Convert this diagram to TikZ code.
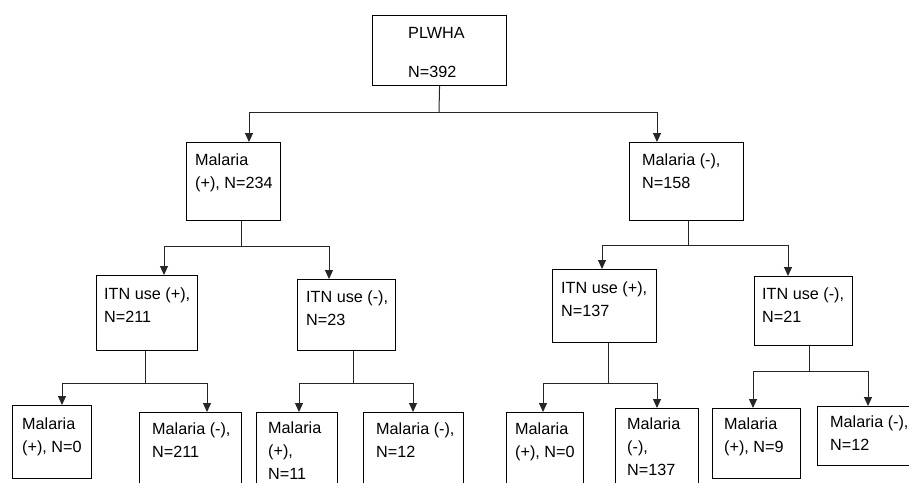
\documentclass[tikz,border=0pt]{standalone}
\usepackage{fontspec}
\setmainfont{Liberation Sans}
\usetikzlibrary{arrows.meta}
\tikzset{
  box/.style={draw, line width=1.1pt, anchor=north west, inner sep=0pt},
  lbl/.style={anchor=base west, inner sep=0pt, align=left, font=\fontsize{16.2}{23}\selectfont},
  ln/.style={line width=1pt, black!85},
  arr/.style={ln, -{Triangle[length=9pt,width=8pt]}},
}
\begin{document}
\begin{tikzpicture}[x=1pt,y=-1pt]
	\clip (0,0) rectangle (909,482);
	% boxes (labels placed at the baseline of their last line)
	\node[box, minimum width=134, minimum height=70] (root) at (372,15) {};
	\node[lbl] (tRoot) at (408,77) {PLWHA\\[16pt]N=392};
	\node[box, minimum width=94, minimum height=78] (mp) at (186,142) {};
	\node[lbl] (tMp) at (195,188) {Malaria\\(+), N=234};
	\node[box, minimum width=114, minimum height=78] (mn) at (629,142) {};
	\node[lbl] (tMn) at (642,188) {Malaria (-),\\N=158};
	\node[box, minimum width=101, minimum height=75] (ip1) at (96,275) {};
	\node[lbl] (tIp1) at (104,322) {ITN use (+),\\N=211};
	\node[box, minimum width=98, minimum height=71] (in1) at (297,279) {};
	\node[lbl] (tIn1) at (306,325) {ITN use (-),\\N=23};
	\node[box, minimum width=104, minimum height=73] (ip2) at (552,269) {};
	\node[lbl] (tIp2) at (561,316) {ITN use (+),\\N=137};
	\node[box, minimum width=98, minimum height=69] (in2) at (754,276) {};
	\node[lbl] (tIn2) at (762,322) {ITN use (-),\\N=21};
	% bottom row
	\node[box, minimum width=79, minimum height=73] (b1) at (12,405) {};
	\node[lbl] (tB1) at (22,452) {Malaria\\(+), N=0};
	\node[box, minimum width=102, minimum height=80] (b2) at (139,412) {};
	\node[lbl] (tB2) at (152,457) {Malaria (-),\\N=211};
	\node[box, minimum width=81, minimum height=80] (b3) at (256,412) {};
	\node[lbl] (tB3) at (268,479) {Malaria\\(+),\\N=11};
	\node[box, minimum width=100, minimum height=80] (b4) at (363,412) {};
	\node[lbl] (tB4) at (376,457) {Malaria (-),\\N=12};
	\node[box, minimum width=77, minimum height=80] (b5) at (506,412) {};
	\node[lbl] (tB5) at (515,457) {Malaria\\(+), N=0};
	\node[box, minimum width=83, minimum height=85] (b6) at (615,408) {};
	\node[lbl] (tB6) at (627,475) {Malaria\\(-),\\N=137};
	\node[box, minimum width=88, minimum height=70] (b7) at (712,408) {};
	\node[lbl] (tB7) at (724,452) {Malaria\\(+), N=9};
	\node[box, minimum width=95, minimum height=59] (b8) at (817,406) {};
	\node[lbl] (tB8) at (830,450) {Malaria (-),\\N=12};

	% branch points
	\coordinate (j0) at (439,112);
	\coordinate (a1) at (249,112);
	\coordinate (a2) at (657,112);
	\coordinate (j1) at (241,246);
	\coordinate (a3) at (164,246);
	\coordinate (a4) at (329,246);
	\coordinate (j2) at (688,245);
	\coordinate (a5) at (602,245);
	\coordinate (a6) at (788,245);
	\coordinate (j3) at (145,383);
	\coordinate (a7) at (62,383);
	\coordinate (a8) at (207,383);
	\coordinate (j4) at (353,383);
	\coordinate (a9) at (299,383);
	\coordinate (a10) at (413,383);
	\coordinate (j5) at (608,383);
	\coordinate (a11) at (543,383);
	\coordinate (a12) at (657,383);
	\coordinate (j6) at (809,371);
	\coordinate (a13) at (753,371);
	\coordinate (a14) at (868,371);

	\draw[ln] (root.south) -- (j0);
	\draw[arr] (j0) -- (a1) -- (a1 |- mp.north);
	\draw[arr] (j0) -- (a2) -- (a2 |- mn.north);

	\draw[ln] (j1 |- mp.south) -- (j1);
	\draw[arr] (j1) -- (a3) -- (a3 |- ip1.north);
	\draw[arr] (j1) -- (a4) -- (a4 |- in1.north);

	\draw[ln] (j2 |- mn.south) -- (j2);
	\draw[arr] (j2) -- (a5) -- (a5 |- ip2.north);
	\draw[arr] (j2) -- (a6) -- (a6 |- in2.north);

	\draw[ln] (j3 |- ip1.south) -- (j3);
	\draw[arr] (j3) -- (a7) -- (a7 |- b1.north);
	\draw[arr] (j3) -- (a8) -- (a8 |- b2.north);

	\draw[ln] (j4 |- in1.south) -- (j4);
	\draw[arr] (j4) -- (a9) -- (a9 |- b3.north);
	\draw[arr] (j4) -- (a10) -- (a10 |- b4.north);

	\draw[ln] (j5 |- ip2.south) -- (j5);
	\draw[arr] (j5) -- (a11) -- (a11 |- b5.north);
	\draw[arr] (j5) -- (a12) -- (a12 |- b6.north);

	\draw[ln] (j6 |- in2.south) -- (j6);
	\draw[arr] (j6) -- (a13) -- (a13 |- b7.north);
	\draw[arr] (j6) -- (a14) -- (a14 |- b8.north);
\end{tikzpicture}
\end{document}
